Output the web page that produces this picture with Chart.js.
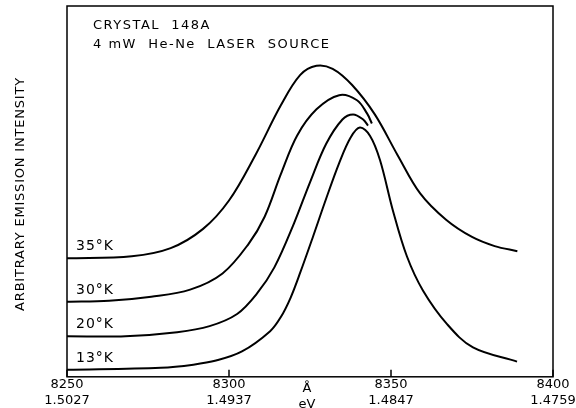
<!DOCTYPE html>
<html>
<head>
<meta charset="utf-8">
<script src="https://cdn.jsdelivr.net/npm/chart.js@4"></script>
<style>
  html, body { margin: 0; padding: 0; background: #fff; }
  #wrap { width: 576px; height: 408px; }
</style>
</head>
<body>
<div id="wrap"><canvas id="myChart"></canvas></div>
<script>
// wavelength (Å) and arbitrary intensity
const wl35 = [8250, 8270, 8282, 8292, 8300, 8308, 8316, 8322, 8327, 8332, 8338, 8345, 8352, 8359, 8367, 8375, 8382, 8389];
const int35 = [117, 119, 127, 146, 174, 218, 268, 298, 307, 304, 288, 259, 219, 181, 155, 138, 129, 124];

const wl30 = [8250, 8263, 8276, 8288, 8298, 8306, 8311, 8316, 8321, 8327, 8334, 8339.5, 8342.6, 8344.1];
const int30 = [74, 75, 79, 86, 102, 131, 158, 200, 238, 264, 278, 273, 260, 250];

const wl20 = [8250, 8268, 8284, 8294, 8302.5, 8308.6, 8314, 8320, 8325, 8330, 8335, 8338.3, 8341.4, 8342.9];
const int20 = [40, 40, 44, 50, 62, 82, 108, 151, 192, 230, 254, 259, 254, 248];

const wl13 = [8250, 8279, 8289, 8296, 8304, 8312.7, 8316, 8319, 8322, 8326, 8330, 8334, 8337.5, 8340.4, 8343.5, 8346.6, 8350.6, 8354.9, 8359.9, 8367.3, 8375.3, 8388.9];
const int13 = [7, 9, 12, 16, 25, 45, 59, 78, 103, 139, 176, 211, 236, 246, 238, 214, 164, 119, 85, 52, 29, 15];

const tempLabels = ['35°K', '30°K', '20°K', '13°K'];
const xTicks = [8250, 8300, 8350, 8400];
const evTicks = ['1.5027', '1.4937', '1.4847', '1.4759'];

const FONT = '"DejaVu Sans", sans-serif';

function pts(xs, ys) {
  return xs.map((x, i) => ({ x: x, y: ys[i] }));
}

const series = [[wl35, int35], [wl30, int30], [wl20, int20], [wl13, int13]];

const extras = {
  id: 'extras',
  afterDraw(chart) {
    const c = chart.ctx;
    const a = chart.chartArea;
    const xs = chart.scales.x, ys = chart.scales.y;
    c.save();
    c.strokeStyle = '#000';
    c.lineWidth = 1.5;
    c.strokeRect(a.left, a.top, a.right - a.left, a.bottom - a.top);
    // inward ticks
    xTicks.forEach(v => {
      const px = xs.getPixelForValue(v);
      c.beginPath();
      c.moveTo(px, a.bottom);
      c.lineTo(px, a.bottom - 7);
      c.stroke();
    });
    c.fillStyle = '#000';
    c.font = '13px ' + FONT;
    c.letterSpacing = '1.5px';
    c.textBaseline = 'alphabetic';
    c.textAlign = 'left';
    c.fillText('CRYSTAL  148A', a.left + 26, a.top + 23);
    c.fillText('4 mW  He-Ne  LASER  SOURCE', a.left + 26, a.top + 42);
    // temperature labels
    c.font = '14px ' + FONT;
    c.letterSpacing = '1px';
    series.forEach((s, i) => {
      const px = xs.getPixelForValue(s[0][0]) + 9;
      const py = ys.getPixelForValue(s[1][0]) - 8;
      c.fillText(tempLabels[i], px, py);
    });
    // Å / eV units under the axis centre
    c.font = '13px ' + FONT;
    c.textAlign = 'center';
    c.letterSpacing = '0px';
    const mid = xs.getPixelForValue((xs.min + xs.max) / 2) - 3;
    c.fillText('Å', mid, a.bottom + 15);
    c.fillText('eV', mid, a.bottom + 31);
    // y title
    c.translate(21, 194);
    c.rotate(-Math.PI / 2);
    c.font = '13px ' + FONT;
    c.letterSpacing = '0.8px';
    c.textBaseline = 'middle';
    c.fillText('ARBITRARY EMISSION INTENSITY', 0, 0);
    c.restore();
  }
};

const ctx = document.getElementById('myChart');

new Chart(ctx, {
  type: 'line',
  data: {
    datasets: series.map((s, i) => ({
      label: tempLabels[i],
      data: pts(s[0], s[1]),
      borderColor: '#000',
      borderWidth: 2,
      pointRadius: 0,
      fill: false,
      tension: 0.35
    }))
  },
  options: {
    responsive: true,
    maintainAspectRatio: false,
    animation: false,
    layout: { padding: { left: 67, top: 6, right: 23, bottom: 0 } },
    plugins: { legend: { display: false }, tooltip: { enabled: false } },
    scales: {
      x: {
        type: 'linear',
        min: 8250,
        max: 8400,
        afterBuildTicks: s => { s.ticks = xTicks.map(v => ({ value: v })); },
        afterFit: s => { s.paddingLeft = 0; s.paddingRight = 0; },
        grid: { display: false, drawTicks: false },
        border: { display: false },
        ticks: {
          color: '#000',
          padding: 0,
          maxRotation: 0,
          autoSkip: false,
          font: { family: FONT, size: 13, lineHeight: 1.2 },
          callback: (v) => {
            const i = xTicks.indexOf(v);
            return [String(v), evTicks[i]];
          }
        }
      },
      y: {
        display: false,
        min: 0,
        max: 366
      }
    }
  },
  plugins: [extras]
});
</script>
</body>
</html>
